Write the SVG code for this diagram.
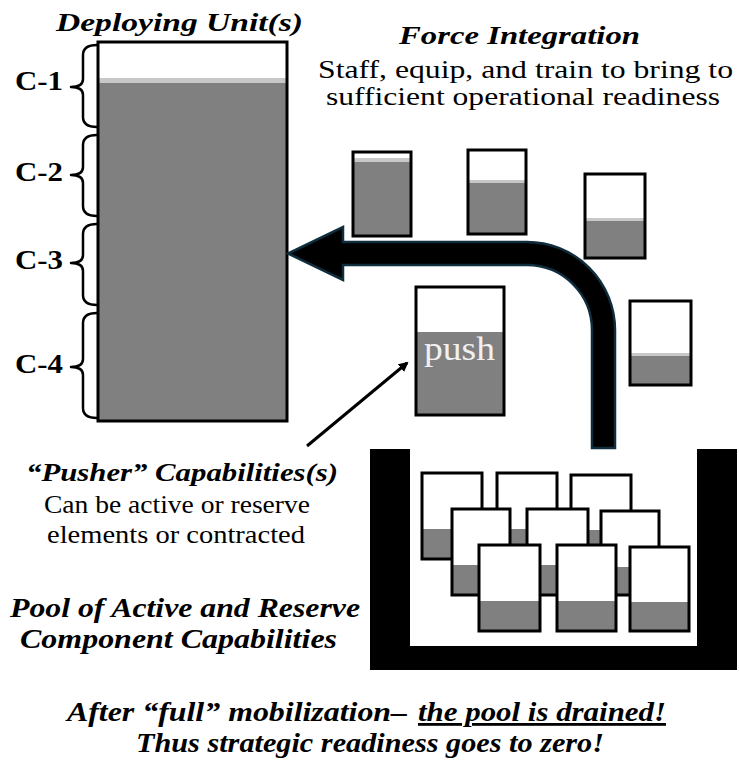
<svg xmlns="http://www.w3.org/2000/svg" width="739" height="765" viewBox="0 0 739 765">
<style>
.t{font-family:"Liberation Serif","Times New Roman",serif;fill:#000}
.bi{font-weight:bold;font-style:italic;font-size:26px}
.bl{font-weight:bold;font-style:italic;font-size:28px}
.r{font-size:25px}
.b{font-weight:bold;font-size:28px}
.box{fill:none;stroke:#000;stroke-width:3}
.bg{fill:#fff}
.gr{fill:#808080}
.band{fill:#c8c8c8}
.brace{fill:none;stroke:#000;stroke-width:2.5;stroke-linejoin:round}
</style>
<defs>
<marker id="ah" markerWidth="10" markerHeight="10" refX="8" refY="5" orient="auto" markerUnits="userSpaceOnUse">
<path d="M0,0 L10,5 L0,10 Z" fill="#000"/>
</marker>
</defs>
<rect width="739" height="765" fill="#fff"/>

<g id="deploying-unit">
<rect class="bg" x="98" y="42" width="189" height="379"/>
<rect class="band" x="98" y="78" width="189" height="5"/>
<rect class="gr" x="98" y="83" width="189" height="338"/>
<rect class="box" x="98" y="42" width="189" height="379"/>
<text class="t bi" x="56" y="31" textLength="247" lengthAdjust="spacingAndGlyphs">Deploying Unit(s)</text>
</g>

<g id="readiness-levels">
<path class="brace" d="M97 45 Q83 45 83 55 L83 79 Q83 87 71 87 Q83 87 83 95 L83 117 Q83 127 97 127"/>
<path class="brace" d="M97 135 Q83 135 83 145 L83 167 Q83 175 71 175 Q83 175 83 183 L83 206 Q83 216 97 216"/>
<path class="brace" d="M97 224 Q83 224 83 234 L83 255 Q83 263 71 263 Q83 263 83 271 L83 295 Q83 305 97 305"/>
<path class="brace" d="M97 313 Q83 313 83 323 L83 359 Q83 367 71 367 Q83 367 83 375 L83 408 Q83 418 97 418"/>
<text class="t b" x="15" y="90" textLength="48" lengthAdjust="spacingAndGlyphs">C-1</text>
<text class="t b" x="15" y="181" textLength="48" lengthAdjust="spacingAndGlyphs">C-2</text>
<text class="t b" x="15" y="269" textLength="48" lengthAdjust="spacingAndGlyphs">C-3</text>
<text class="t b" x="15" y="373" textLength="48" lengthAdjust="spacingAndGlyphs">C-4</text>
</g>

<g id="force-integration-label">
<text class="t bi" x="399" y="44" textLength="241" lengthAdjust="spacingAndGlyphs">Force Integration</text>
<text class="t r" x="318" y="78" textLength="415" lengthAdjust="spacingAndGlyphs">Staff, equip, and train to bring to</text>
<text class="t r" x="326" y="105" textLength="394" lengthAdjust="spacingAndGlyphs">sufficient operational readiness</text>
</g>

<g id="unit-a">
<rect class="bg" x="353" y="152" width="58" height="84"/>
<rect class="band" x="353" y="158" width="58" height="4"/>
<rect class="gr" x="353" y="162" width="58" height="74"/>
<rect class="box" x="353" y="152" width="58" height="84"/>
</g>
<g id="unit-b">
<rect class="bg" x="468" y="150" width="58" height="84"/>
<rect class="band" x="468" y="180" width="58" height="3"/>
<rect class="gr" x="468" y="183" width="58" height="51"/>
<rect class="box" x="468" y="150" width="58" height="84"/>
</g>
<g id="unit-c">
<rect class="bg" x="585" y="174" width="60" height="84"/>
<rect class="band" x="585" y="218" width="60" height="3"/>
<rect class="gr" x="585" y="221" width="60" height="37"/>
<rect class="box" x="585" y="174" width="60" height="84"/>
</g>
<g id="unit-e">
<rect class="bg" x="630" y="301" width="61" height="84"/>
<rect class="band" x="630" y="353" width="61" height="3"/>
<rect class="gr" x="630" y="356" width="61" height="29"/>
<rect class="box" x="630" y="301" width="61" height="84"/>
</g>
<g id="pusher-unit">
<rect class="bg" x="416" y="287" width="88" height="128"/>
<rect class="gr" x="416" y="332" width="88" height="83"/>
<rect class="box" x="416" y="287" width="88" height="128"/>
<text class="t" x="424" y="360" font-size="34" style="fill:#f0f0f0" textLength="71" lengthAdjust="spacingAndGlyphs">push</text>
</g>

<g id="pool">
<rect x="370" y="449" width="367" height="221" fill="#000"/>
<rect x="410" y="449" width="287" height="197" fill="#fff"/>
<g id="pool-r1a"><rect class="bg" x="422" y="473" width="60" height="86"/><rect class="gr" x="422" y="529" width="60" height="30"/><rect class="box" x="422" y="473" width="60" height="86"/></g>
<g id="pool-r1b"><rect class="bg" x="497" y="473" width="60" height="86"/><rect class="gr" x="497" y="529" width="60" height="30"/><rect class="box" x="497" y="473" width="60" height="86"/></g>
<g id="pool-r1c"><rect class="bg" x="571" y="475" width="60" height="86"/><rect class="gr" x="571" y="530" width="60" height="31"/><rect class="box" x="571" y="475" width="60" height="86"/></g>
<g id="pool-r2a"><rect class="bg" x="452" y="509" width="58" height="86"/><rect class="gr" x="452" y="565" width="58" height="30"/><rect class="box" x="452" y="509" width="58" height="86"/></g>
<g id="pool-r2b"><rect class="bg" x="527" y="509" width="61" height="86"/><rect class="gr" x="527" y="565" width="61" height="30"/><rect class="box" x="527" y="509" width="61" height="86"/></g>
<g id="pool-r2c"><rect class="bg" x="601" y="511" width="58" height="84"/><rect class="gr" x="601" y="567" width="58" height="28"/><rect class="box" x="601" y="511" width="58" height="84"/></g>
<g id="pool-r3a"><rect class="bg" x="479" y="545" width="61" height="86"/><rect class="gr" x="479" y="601" width="61" height="30"/><rect class="box" x="479" y="545" width="61" height="86"/></g>
<g id="pool-r3b"><rect class="bg" x="557" y="545" width="59" height="86"/><rect class="gr" x="557" y="601" width="59" height="30"/><rect class="box" x="557" y="545" width="59" height="86"/></g>
<g id="pool-r3c"><rect class="bg" x="630" y="547" width="59" height="84"/><rect class="gr" x="630" y="602" width="59" height="29"/><rect class="box" x="630" y="547" width="59" height="84"/></g>
</g>

<g id="connectors">
<path d="M615 448 L615 330 A88 88 0 0 0 527 242 L343 242 L343 227 L288 253.5 L343 280 L343 265 L527 265 A65 65 0 0 1 592 330 L592 448 Z" fill="#000" stroke="#0f2d3d" stroke-width="2.5" stroke-linejoin="miter"/>
<line x1="307" y1="446" x2="407" y2="363" stroke="#000" stroke-width="3" marker-end="url(#ah)"/>
</g>

<g id="pusher-label">
<text class="t bi" x="26" y="481" textLength="312" lengthAdjust="spacingAndGlyphs">“Pusher” Capabilities(s)</text>
<text class="t r" x="44" y="513" textLength="266" lengthAdjust="spacingAndGlyphs">Can be active or reserve</text>
<text class="t r" x="47" y="543" textLength="258" lengthAdjust="spacingAndGlyphs">elements or contracted</text>
</g>

<g id="pool-label">
<text class="t bl" x="10" y="617" textLength="350" lengthAdjust="spacingAndGlyphs">Pool of Active and Reserve</text>
<text class="t bl" x="20" y="648" textLength="317" lengthAdjust="spacingAndGlyphs">Component Capabilities</text>
</g>

<g id="conclusion">
<text class="t bl" x="67" y="721" textLength="340" lengthAdjust="spacingAndGlyphs">After “full” mobilization–</text>
<text class="t bl" x="418" y="721" textLength="248" lengthAdjust="spacingAndGlyphs" text-decoration="underline">the pool is drained!</text>
<text class="t bl" x="136" y="752" textLength="468" lengthAdjust="spacingAndGlyphs">Thus strategic readiness goes to zero!</text>
</g>
</svg>
